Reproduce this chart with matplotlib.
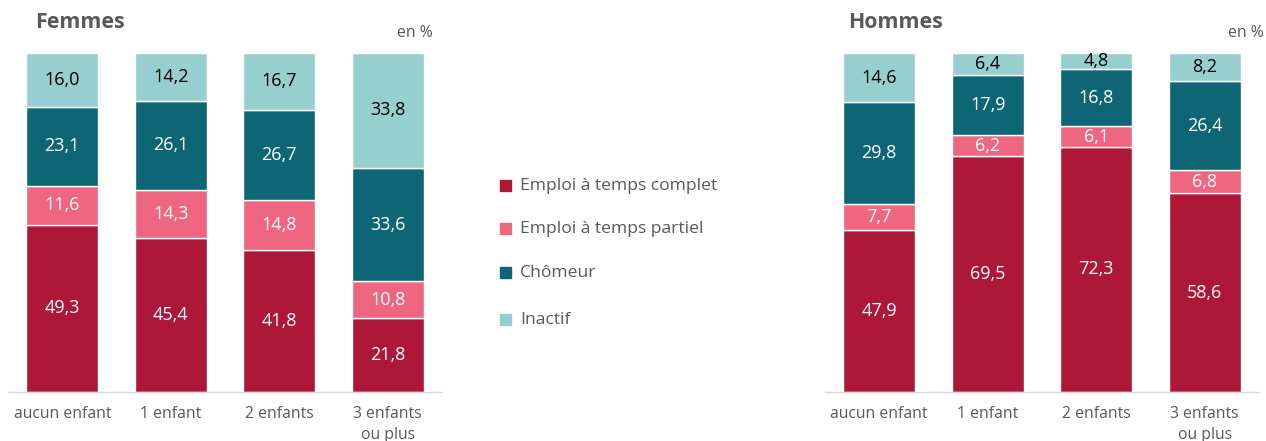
import matplotlib
matplotlib.use("Agg")
import matplotlib.pyplot as plt
import numpy as np

plt.rcParams['font.family'] = ['Open Sans', 'DejaVu Sans']

categories = ["aucun enfant", "1 enfant", "2 enfants", "3 enfants\nou plus"]
series_names = ["Emploi à temps complet", "Emploi à temps partiel", "Chômeur", "Inactif"]
colors = ["#AD1838", "#EE6680", "#0E6674", "#97CFD0"]
label_colors = ["white", "white", "white", "black"]

femmes_complet = [49.3, 45.4, 41.8, 21.8]
femmes_partiel = [11.6, 14.3, 14.8, 10.8]
femmes_chomeur = [23.1, 26.1, 26.7, 33.6]
femmes_inactif = [16.0, 14.2, 16.7, 33.8]

hommes_complet = [47.9, 69.5, 72.3, 58.6]
hommes_partiel = [7.7, 6.2, 6.1, 6.8]
hommes_chomeur = [29.8, 17.9, 16.8, 26.4]
hommes_inactif = [14.6, 6.4, 4.8, 8.2]

fig = plt.figure(figsize=(12.66, 4.41), dpi=100)
axL = fig.add_axes([8/1266, 1-392/441, 434/1266, 339/441])
axR = fig.add_axes([825/1266, 1-392/441, 434/1266, 339/441])

def draw(ax, data):
    x = np.arange(len(categories))
    bottom = np.zeros(len(categories))
    for vals, col, lc in zip(data, colors, label_colors):
        vals = np.array(vals)
        ax.bar(x, vals, 0.66, bottom=bottom, color=col, edgecolor="white", linewidth=1.0)
        for xi, b, v in zip(x, bottom, vals):
            ax.text(xi, b + v/2, f"{v:.1f}".replace(".", ","), ha="center", va="center",
                    color=lc, fontsize=13)
        bottom += vals
    ax.set_xlim(-0.5, len(categories) - 0.5)
    ax.set_ylim(0, 100)
    ax.set_yticks([])
    ax.set_xticks(x)
    ax.set_xticklabels(categories, fontsize=11.3, color="#595959", linespacing=1.45)
    ax.tick_params(axis="x", length=0, pad=10)
    for s in ["top", "right", "left"]:
        ax.spines[s].set_visible(False)
    ax.spines["bottom"].set_color("#D9D9D9")
    ax.spines["bottom"].set_linewidth(1.0)

draw(axL, [femmes_complet, femmes_partiel, femmes_chomeur, femmes_inactif])
draw(axR, [hommes_complet, hommes_partiel, hommes_chomeur, hommes_inactif])

fig.text(35/1266, 1-22/441, "Femmes", fontsize=15.4, fontweight="bold", color="#595959", va="center", ha="left")
fig.text(433/1266, 1-33/441, "en %", fontsize=11.3, color="#595959", va="center", ha="right")
fig.text(848/1266, 1-22/441, "Hommes", fontsize=15.4, fontweight="bold", color="#595959", va="center", ha="left")
fig.text(1264/1266, 1-33/441, "en %", fontsize=11.3, color="#595959", va="center", ha="right")

legend_y = [186, 229, 273, 320]
for name, col, ly in zip(series_names, colors, legend_y):
    fig.patches.append(plt.Rectangle((500/1266, 1-(ly+5)/441), 11/1266, 11/441,
                                     transform=fig.transFigure, color=col, figure=fig))
    fig.text(520/1266, 1-ly/441, name, fontsize=12.6, color="#595959", va="center", ha="left")

fig.savefig("out.png", dpi=100)
